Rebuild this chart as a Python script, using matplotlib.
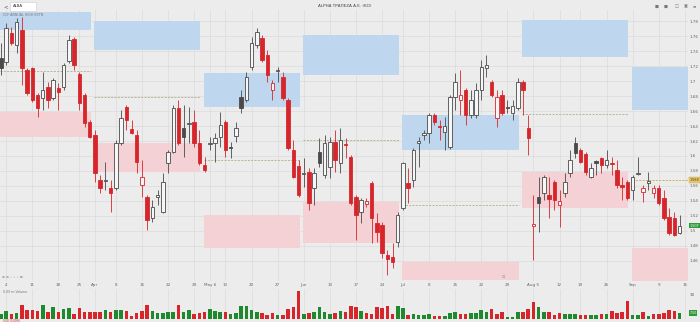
import numpy as np
import pandas as pd
import matplotlib
matplotlib.use('Agg')
import matplotlib.pyplot as plt
from matplotlib.patches import Rectangle

# --- dane dzienne (ALPHA, 1 Mar - 13 Sep 2024) ---
opens = [1.731, 1.725, 1.764, 1.748, 1.768, 1.715, 1.717, 1.681, 1.677, 1.692,
         1.677, 1.691, 1.692, 1.727, 1.756, 1.709, 1.681, 1.645, 1.628, 1.568,
         1.567, 1.557, 1.557, 1.617, 1.665, 1.636, 1.628, 1.561, 1.545, 1.517,
         1.545, 1.525, 1.591, 1.605, 1.664, 1.637, 1.643, 1.645, 1.617, 1.588,
         1.616, 1.617, 1.625, 1.645, 1.612, 1.627, 1.679, 1.675, 1.719, 1.748,
         1.757, 1.735, 1.688, 1.713, 1.705, 1.675, 1.608, 1.587, 1.576, 1.579,
         1.557, 1.605, 1.575, 1.585, 1.619, 1.591, 1.616, 1.599, 1.545, 1.525,
         1.536, 1.564, 1.511, 1.508, 1.468, 1.465, 1.485, 1.531, 1.564, 1.568,
         1.617, 1.628, 1.631, 1.655, 1.640, 1.632, 1.612, 1.679, 1.675, 1.688,
         1.655, 1.655, 1.688, 1.717, 1.699, 1.651, 1.681, 1.665, 1.657, 1.664,
         1.699, 1.637, 1.507, 1.545, 1.551, 1.548, 1.565, 1.535, 1.551, 1.577,
         1.617, 1.608, 1.603, 1.572, 1.593, 1.597, 1.588, 1.591, 1.581, 1.561,
         1.565, 1.555, 1.576, 1.552, 1.564, 1.551, 1.557, 1.544, 1.519, 1.517,
         1.497]
highs = [1.751, 1.777, 1.772, 1.784, 1.785, 1.717, 1.719, 1.684, 1.712, 1.699,
         1.704, 1.697, 1.724, 1.761, 1.759, 1.712, 1.684, 1.648, 1.635, 1.575,
         1.592, 1.568, 1.621, 1.661, 1.668, 1.648, 1.635, 1.595, 1.548, 1.541,
         1.555, 1.577, 1.608, 1.668, 1.675, 1.668, 1.665, 1.661, 1.635, 1.599,
         1.625, 1.631, 1.659, 1.648, 1.619, 1.645, 1.688, 1.712, 1.759, 1.771,
         1.761, 1.741, 1.701, 1.719, 1.712, 1.677, 1.621, 1.595, 1.597, 1.584,
         1.584, 1.624, 1.628, 1.625, 1.635, 1.637, 1.624, 1.601, 1.548, 1.544,
         1.544, 1.567, 1.524, 1.512, 1.475, 1.484, 1.525, 1.592, 1.584, 1.611,
         1.625, 1.635, 1.657, 1.657, 1.648, 1.652, 1.681, 1.711, 1.715, 1.691,
         1.688, 1.697, 1.728, 1.735, 1.701, 1.688, 1.688, 1.675, 1.675, 1.704,
         1.701, 1.655, 1.548, 1.572, 1.575, 1.572, 1.568, 1.555, 1.577, 1.608,
         1.625, 1.611, 1.605, 1.591, 1.595, 1.599, 1.608, 1.599, 1.595, 1.572,
         1.568, 1.575, 1.599, 1.561, 1.579, 1.561, 1.561, 1.555, 1.531, 1.525,
         1.521]
lows = [1.708, 1.721, 1.748, 1.737, 1.695, 1.681, 1.672, 1.652, 1.661, 1.664,
        1.675, 1.661, 1.688, 1.724, 1.715, 1.661, 1.639, 1.624, 1.565, 1.551,
        1.555, 1.525, 1.555, 1.615, 1.635, 1.629, 1.577, 1.545, 1.501, 1.512,
        1.535, 1.524, 1.577, 1.604, 1.615, 1.599, 1.617, 1.612, 1.588, 1.579,
        1.608, 1.592, 1.612, 1.599, 1.597, 1.619, 1.657, 1.672, 1.715, 1.744,
        1.725, 1.699, 1.675, 1.699, 1.675, 1.608, 1.571, 1.545, 1.559, 1.528,
        1.535, 1.585, 1.571, 1.571, 1.579, 1.577, 1.597, 1.535, 1.488, 1.511,
        1.532, 1.484, 1.485, 1.464, 1.441, 1.451, 1.479, 1.528, 1.537, 1.559,
        1.585, 1.621, 1.617, 1.641, 1.621, 1.608, 1.609, 1.661, 1.655, 1.641,
        1.651, 1.651, 1.675, 1.705, 1.679, 1.639, 1.655, 1.657, 1.648, 1.661,
        1.655, 1.601, 1.461, 1.499, 1.541, 1.517, 1.528, 1.505, 1.545, 1.572,
        1.597, 1.591, 1.575, 1.571, 1.575, 1.577, 1.584, 1.575, 1.557, 1.541,
        1.541, 1.541, 1.575, 1.539, 1.555, 1.544, 1.535, 1.515, 1.495, 1.493,
        1.496]
closes = [1.717, 1.771, 1.751, 1.779, 1.717, 1.684, 1.675, 1.664, 1.688, 1.675,
          1.701, 1.685, 1.721, 1.755, 1.721, 1.671, 1.644, 1.625, 1.577, 1.557,
          1.568, 1.551, 1.617, 1.651, 1.648, 1.631, 1.592, 1.572, 1.515, 1.532,
          1.548, 1.565, 1.605, 1.664, 1.617, 1.625, 1.644, 1.617, 1.591, 1.581,
          1.617, 1.624, 1.641, 1.608, 1.611, 1.637, 1.664, 1.705, 1.751, 1.765,
          1.728, 1.708, 1.697, 1.715, 1.677, 1.611, 1.572, 1.548, 1.577, 1.537,
          1.577, 1.591, 1.617, 1.619, 1.595, 1.621, 1.615, 1.537, 1.521, 1.541,
          1.540, 1.517, 1.499, 1.471, 1.463, 1.459, 1.521, 1.591, 1.557, 1.608,
          1.620, 1.631, 1.655, 1.645, 1.639, 1.640, 1.679, 1.699, 1.681, 1.655,
          1.675, 1.688, 1.719, 1.721, 1.681, 1.679, 1.657, 1.664, 1.667, 1.699,
          1.688, 1.624, 1.509, 1.537, 1.572, 1.543, 1.541, 1.540, 1.565, 1.595,
          1.604, 1.592, 1.579, 1.584, 1.591, 1.588, 1.595, 1.589, 1.561, 1.559,
          1.544, 1.572, 1.577, 1.557, 1.567, 1.557, 1.537, 1.517, 1.497, 1.495,
          1.507]
prev_close = 1.712  # zamkniecie 29 Feb

# wolumen [mln]
volumes = [6.3, 10.0, 6.3, 7.5, 17.5, 11.3, 11.3, 10.0, 17.5, 8.8,
           15.0, 8.8, 12.5, 13.8, 6.3, 13.8, 8.8, 8.8, 8.8, 8.8,
           11.3, 8.8, 11.3, 11.3, 10.0, 3.8, 7.5, 10.0, 17.5, 10.0,
           7.5, 7.5, 8.8, 8.8, 17.5, 8.8, 11.3, 6.3, 7.5, 8.8,
           12.5, 10.0, 8.8, 8.8, 6.3, 7.5, 16.3, 16.3, 11.3, 8.8,
           7.5, 5.0, 7.5, 5.0, 5.0, 12.5, 15.0, 35.0, 6.3, 7.5,
           8.8, 15.0, 8.8, 6.3, 7.5, 10.0, 8.8, 16.3, 15.0, 10.0,
           7.5, 6.3, 15.0, 13.8, 16.3, 6.3, 16.3, 13.8, 5.0, 6.3,
           5.0, 5.0, 6.3, 3.8, 3.8, 3.8, 7.5, 8.8, 6.3, 6.3,
           7.5, 7.5, 11.3, 8.8, 12.5, 6.3, 8.8, 2.5, 2.5, 8.8,
           8.8, 12.5, 21.3, 15.0, 8.8, 8.8, 5.0, 7.5, 6.3, 6.3,
           6.3, 5.0, 5.0, 5.0, 5.0, 6.3, 6.3, 10.0, 7.5, 8.8,
           22.5, 5.0, 5.0, 8.8, 3.8, 6.3, 6.3, 7.5, 11.3, 10.0,
           7.5]

holidays = ['2024-03-18', '2024-03-25', '2024-03-29', '2024-04-01', '2024-05-01',
            '2024-05-03', '2024-05-06', '2024-05-07', '2024-06-24', '2024-08-15']
week_labels = ['4', '11', '18', '25', 'Apr', '8', '15', '22', '29', 'May 6', '13', '20',
               '27', 'Jun', '10', '17', '24', 'Jul', '8', '15', '22', '29', 'Aug 5',
               '12', '19', '26', 'Sep', '9', '16']

# strefy miesieczne
months = [3, 4, 5, 6, 7, 8, 9]
blue_top = [1.792, 1.780, 1.711, 1.761, 1.655, 1.781, 1.719]
blue_bot = [1.768, 1.741, 1.665, 1.708, 1.608, 1.732, 1.661]
red_top = [1.659, 1.617, 1.521, 1.539, 1.459, 1.579, 1.477]
red_bot = [1.625, 1.579, 1.477, 1.484, 1.435, 1.531, 1.433]
mid_line = [1.713, 1.679, 1.595, 1.621, 1.535, 1.656, 1.568]

BG = '#ececec'
GRID = '#dcdcdc'
RED = '#d6262b'
DARK = '#4a4a4a'
GREEN = '#1f8a2d'

W, H = 700, 322
fx = lambda x: x / W
fy = lambda y: 1 - y / H

fig = plt.figure(figsize=(7, 3.22), dpi=100, facecolor=BG)
ax = fig.add_axes([0, fy(281), fx(688), (281 - 10) / H], facecolor=BG)
axv = fig.add_axes([0, fy(319), fx(688), (319 - 289) / H], facecolor=BG, sharex=ax)

n = len(closes)
x = np.arange(n)
o = np.array(opens); c = np.array(closes)
hi = np.array(highs); lo = np.array(lows)
pc = np.r_[prev_close, c[:-1]]
up = c >= pc
hollow = c > o
edge = np.where(up, DARK, RED)
face = np.where(hollow, '#f6f6f6', edge)

days = pd.bdate_range('2024-03-01', '2024-09-16', freq='C', holidays=holidays)
wk = days.to_period('W')
ticks = np.flatnonzero(np.r_[False, np.asarray(wk[1:] != wk[:-1])])

xmin, xmax = -0.19, 131.6
ymin, ymax = 1.4333, 1.7947

# strefy
gap = 0.3
for k, m in enumerate(months):
    idx = np.flatnonzero(days.month == m)
    x0 = idx[0] - 0.5 + gap
    x1 = xmax if k == len(months) - 1 else idx[-1] + 0.5 - gap
    ax.add_patch(Rectangle((x0, blue_bot[k]), x1 - x0, blue_top[k] - blue_bot[k],
                           facecolor='#bed7ee', edgecolor='none', zorder=1))
    ax.add_patch(Rectangle((x0, red_bot[k]), x1 - x0, red_top[k] - red_bot[k],
                           facecolor='#f3d1d4', edgecolor='none', zorder=1))
    col = '#c9a94e' if k == len(months) - 1 else '#b3ab90'
    ax.hlines(mid_line[k], x0, x1, colors=col, lw=0.6, linestyles=(0, (2.5, 1.5)), zorder=1.5)

# swiece
ax.vlines(x, lo, hi, colors=edge, lw=0.6, zorder=2)
body_lo = np.minimum(o, c)
body_h = np.maximum(np.abs(c - o), 0.0007)
ax.bar(x, body_h, 0.66, bottom=body_lo, color=face, edgecolor=edge, linewidth=0.6, zorder=3)

ax.set_xlim(xmin, xmax)
ax.set_ylim(ymin, ymax)
yt = np.arange(1.46, 1.79, 0.02)
ax.set_yticks(yt)
ax.set_yticklabels([f'{v:.2f}'.rstrip('0') for v in yt])
ax.yaxis.tick_right()
ax.set_xticks(ticks)
ax.set_xticklabels(week_labels)
ax.tick_params(axis='both', length=0, labelsize=3, colors='#666666', pad=1.5)
ax.tick_params(axis='x', labelbottom=True)
ax.grid(True, color=GRID, lw=0.5, zorder=0)
ax.set_axisbelow(True)
for s in ax.spines.values():
    s.set_visible(False)

# etykiety po prawej
ax.text(1.002, mid_line[-1], f'{mid_line[-1]:.3f}', transform=ax.get_yaxis_transform(),
        fontsize=2.4, color='#333333', va='center', ha='left',
        bbox=dict(boxstyle='square,pad=0.2', fc='#e9c86a', ec='#c9a94e', lw=0.3))
ax.text(1.002, c[-1], f'{c[-1]:.3f}', transform=ax.get_yaxis_transform(),
        fontsize=2.4, color='white', va='center', ha='left',
        bbox=dict(boxstyle='square,pad=0.2', fc='#2f9a3c', ec='none'))

# wolumen
axv.bar(x, volumes, 0.68, color=np.where(up, GREEN, RED), zorder=2)
axv.set_ylim(0, 37.5)
axv.set_yticks([30])
axv.yaxis.tick_right()
axv.tick_params(axis='both', length=0, labelsize=3, colors='#666666', pad=1.5)
axv.tick_params(axis='x', labelbottom=False)
axv.grid(True, axis='x', color=GRID, lw=0.5, zorder=0)
for s in axv.spines.values():
    s.set_visible(False)
axv.text(1.002, volumes[-1], f'{volumes[-1]:.2f}', transform=axv.get_yaxis_transform(),
         fontsize=2.3, color='white', va='center', ha='left',
         bbox=dict(boxstyle='square,pad=0.2', fc='#2f9a3c', ec='none'))

# pasek gorny i drobne napisy
fig.patches.append(Rectangle((fx(10), fy(10.5)), 26 / W, 8.5 / H, transform=fig.transFigure,
                             facecolor='white', edgecolor='#cccccc', lw=0.4))
fig.text(fx(3), fy(6.3), '<', fontsize=4, color='#555555', va='center')
fig.text(fx(13), fy(6.3), 'ALBA', fontsize=2.8, color='#333333', va='center')
fig.text(fx(345), fy(6), 'ALPHA ΤΡΑΠΕΖΑ Α.Ε. (ΚΟ)', fontsize=3, color='#444444',
         ha='center', va='center')
for xi, sym in zip([657, 666, 677, 686, 694], ['■', '■', '□', '▣', '≡']):
    fig.text(fx(xi), fy(6.5), sym, fontsize=3, color='#777777', ha='center', va='center')
fig.text(fx(3), fy(15), 'CCF ANNUAL HIGH EXTN', fontsize=2.3, color='#777777', va='center')
fig.text(fx(2), fy(277), '⊕ ⊖ ◦ ◦ ◦ ⊡', fontsize=2.5, color='#888888', va='center')
fig.text(fx(503), fy(277), '⊡', fontsize=3, color='#999999', ha='center', va='center')
fig.text(fx(3), fy(292), '0.00 m Volume', fontsize=2.3, color='#777777', va='center')
fig.text(fx(3), fy(320.5), '0.00 (0.00%)', fontsize=2, color=RED, va='center')

fig.savefig('out.png', dpi=100, facecolor=BG)
